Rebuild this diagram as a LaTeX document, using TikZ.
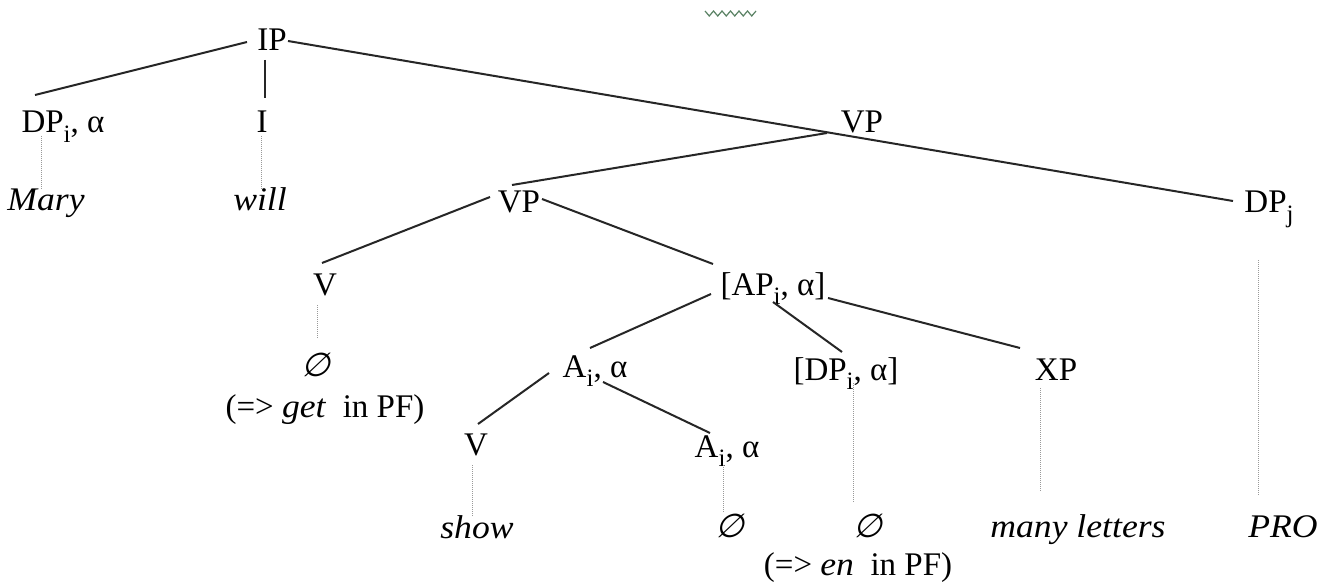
\documentclass[tikz,border=0pt]{standalone}
\usepackage{fontspec}
\setmainfont{Liberation Serif}[ItalicFeatures={FakeStretch=1.08}]
\newfontfamily\efont[FakeSlant=0.25]{DejaVu Sans}
\newcommand{\lsub}[1]{\raisebox{-0.3em}{\fontsize{12.5}{12.5}\selectfont #1}}
\newcommand{\emp}{{\efont ∅}}
\begin{document}
\begin{tikzpicture}[x=0.5pt,y=-0.5pt,
  lab/.style={anchor=base, inner sep=0pt, font=\fontsize{16.5}{20}\selectfont},
  edge/.style={draw=black!85, line width=1pt},
  dots/.style={draw=black!40, line width=0.5pt, dash pattern=on 0.5pt off 0.5pt}]
\useasboundingbox[fill=white] (0,0) rectangle (1321,588);
% nodes
\node[lab] (IP)   at (272,51)  {IP};
\node[lab] (DPi)  at (63,133)  {DP\lsub{i}, α};
\node[lab] (I)    at (262,133) {I};
\node[lab] (Mary) at (46,211)  {\textit{Mary}};
\node[lab] (will) at (260,211) {\textit{will}};
\node[lab] (VP1)  at (862,133) {VP};
\node[lab] (VP2)  at (519,213) {VP};
\node[lab] (DPj)  at (1269,213) {DP\lsub{j}};
\node[lab] (V1)   at (325,295) {V};
\node[lab] (E1)   at (316,376) {\emp};
\node[lab] (get)  at (325,417) {(=> \textit{get}\ \ in PF)};
\node[lab] (AP)   at (773,295) {[AP\lsub{i}, α]};
\node[lab] (A1)   at (595,377) {A\lsub{i}, α};
\node[lab] (DP2)  at (846,380) {[DP\lsub{i}, α]};
\node[lab] (XP)   at (1056,380) {XP};
\node[lab] (V2)   at (476,455) {V};
\node[lab] (A2)   at (727,457) {A\lsub{i}, α};
\node[lab] (show) at (477,538) {\textit{show}};
\node[lab] (E2)   at (730,537) {\emp};
\node[lab] (E3)   at (868,537) {\emp};
\node[lab] (en)   at (858,575) {(=> \textit{en}\ \ in PF)};
\node[lab] (many) at (1078,537) {\textit{many letters}};
\node[lab] (PRO)  at (1283,537) {\textit{PRO}};
% solid branches
\draw[edge] ([shift={(-25,-9)}]IP.base) -- ([shift={(-28,-38)}]DPi.base);
\draw[edge] ([shift={(-7,9)}]IP.base) -- ([shift={(3,-35)}]I.base);
\draw[edge] ([shift={(16,-10)}]IP.base) -- ([shift={(-36,-12)}]DPj.base);
\draw[edge] ([shift={(-35,0)}]VP1.base) -- ([shift={(-7,-28)}]VP2.base);
\draw[edge] ([shift={(-29,-16)}]VP2.base) -- ([shift={(-3,-32)}]V1.base);
\draw[edge] ([shift={(23,-14)}]VP2.base) -- ([shift={(-60,-31)}]AP.base);
\draw[edge] ([shift={(-62,-1)}]AP.base) -- ([shift={(-5,-29)}]A1.base);
\draw[edge] ([shift={(0,7)}]AP.base) -- ([shift={(-4,-28)}]DP2.base);
\draw[edge] ([shift={(55,3)}]AP.base) -- ([shift={(-36,-32)}]XP.base);
\draw[edge] ([shift={(-46,-4)}]A1.base) -- ([shift={(2,-31)}]V2.base);
\draw[edge] ([shift={(8,5)}]A1.base) -- ([shift={(-17,-24)}]A2.base);
% dotted lexical links
\draw[dots] ([shift={(-22,3)}]DPi.base) -- ([shift={(-5,-21)}]Mary.base);
\draw[dots] ([shift={(-1,3)}]I.base) -- ([shift={(1,-21)}]will.base);
\draw[dots] ([shift={(-8,10)}]V1.base) -- ([shift={(1,-38)}]E1.base);
\draw[dots] ([shift={(-4,10)}]V2.base) -- ([shift={(-5,-21)}]show.base);
\draw[dots] ([shift={(-4,8)}]A2.base) -- ([shift={(-7,-25)}]E2.base);
\draw[dots] ([shift={(7,3)}]DP2.base) -- ([shift={(-15,-34)}]E3.base);
\draw[dots] ([shift={(-16,8)}]XP.base) -- ([shift={(-38,-45)}]many.base);
\draw[dots] ([shift={(-11,47)}]DPj.base) -- ([shift={(-25,-42)}]PRO.base);
% small green mark at the top
\draw[draw={rgb,255:red,90;green,130;blue,100}, line width=0.6pt]
  (705,11) -- (709.25,16) -- (713.5,11) -- (717.75,16) -- (722,11) -- (726.25,16) -- (730.5,11)
  -- (734.75,16) -- (739,11) -- (743.25,16) -- (747.5,11) -- (751.75,16) -- (756,11);
\end{tikzpicture}
\end{document}
